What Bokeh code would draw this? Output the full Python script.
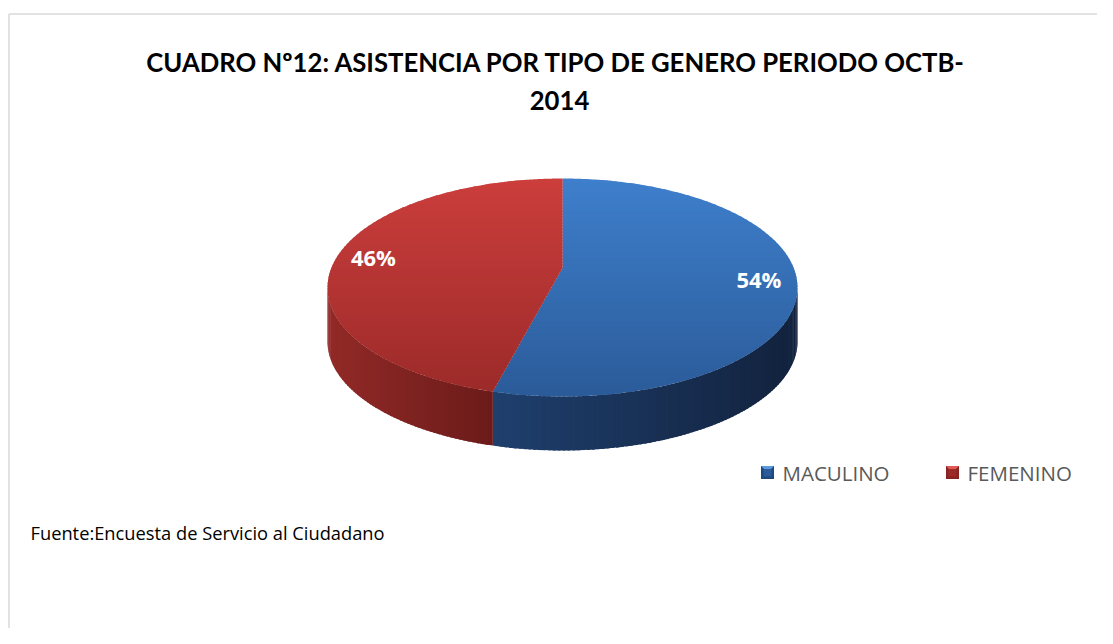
import numpy as np
from bokeh.plotting import figure
from bokeh.models import Range1d
from bokeh.core.properties import value
from bokeh.embed import file_html
from bokeh.resources import INLINE

# ---------------- data ----------------
categories = ["MACULINO", "FEMENINO"]
values = [54, 46]
pct_labels = ["54%", "46%"]
title_lines = ["CUADRO Nº12: ASISTENCIA POR TIPO DE GENERO  PERIODO OCTB-", "2014"]
source_note = "Fuente:Encuesta de Servicio al Ciudadano"

# ---------------- style ----------------
top_colors = [("#3e7fcc", "#2b5b99"), ("#cb3e3c", "#9b2a29")]
side_colors = [("#1f3f6d", "#12223d"), ("#922a27", "#6b1b1a")]
legend_light = ["#5b9ae0", "#e05a57"]
legend_dark = ["#1f4a80", "#8a2321"]

W, H = 1097, 628
X0P, X1P, Y0P, Y1P = 327.0, 797.0, 178.0, 396.0   # bounding box of the pie top
DEPTH = 54.0
K = 0.18  # perspective strength

p = figure(width=W, height=H, x_range=Range1d(0, W), y_range=Range1d(H, 0),
           output_backend="svg", toolbar_location=None, min_border=0,
           x_axis_type=None, y_axis_type=None, background_fill_color="white",
           border_fill_color="white")
p.grid.visible = False
p.outline_line_color = None


def hex2rgb(h):
    h = h.lstrip("#")
    return np.array([int(h[i:i + 2], 16) for i in (0, 2, 4)], dtype=float)


def mix(c0, c1, f):
    f = min(max(f, 0.0), 1.0)
    c = hex2rgb(c0) * (1 - f) + hex2rgb(c1) * f
    return "#%02x%02x%02x" % tuple(int(round(v)) for v in c)


# perspective projection of the unit disc
SXM = 1.0 / np.sqrt(1 - K * K)
SYT, SYB = -1.0 / (1 + K), 1.0 / (1 - K)


def proj(r, phi):
    u, v = r * np.cos(phi), r * np.sin(phi)
    d = 1 - K * v
    sx, sy = u / d, v / d
    x = X0P + (sx + SXM) / (2 * SXM) * (X1P - X0P)
    y = Y0P + (sy - SYT) / (SYB - SYT) * (Y1P - Y0P)
    return x, y


def clip(poly, keep, inter):
    out = []
    n = len(poly)
    for i in range(n):
        a = poly[i]
        b = poly[(i + 1) % n]
        ka, kb = keep(a), keep(b)
        if ka:
            out.append(a)
            if not kb:
                out.append(inter(a, b))
        elif kb:
            out.append(inter(a, b))
    return out


def clip_band(poly, y0, y1):
    def ix(yc):
        def f(a, b):
            t = (yc - a[1]) / (b[1] - a[1])
            return (a[0] + t * (b[0] - a[0]), yc)
        return f
    q = clip(poly, lambda p_: p_[1] >= y0, ix(y0))
    if not q:
        return q
    return clip(q, lambda p_: p_[1] <= y1, ix(y1))


# slice angles (clockwise from 3 o'clock on screen), first slice starts at 12 o'clock
total = float(sum(values))
starts, ends = [], []
a = -np.pi / 2
for v in values:
    starts.append(a)
    a = a + 2 * np.pi * v / total
    ends.append(a)

# ---------- side walls (horizontal gradient) ----------
vis_lo, vis_hi = np.arcsin(K), np.pi - np.arcsin(K)
wx, wy, wc = [], [], []
for i in range(len(values)):
    a0, a1 = starts[i], ends[i]
    for off in (0.0, 2 * np.pi, -2 * np.pi):
        lo = max(a0 + off, vis_lo)
        hi = min(a1 + off, vis_hi)
        if hi <= lo:
            continue
        ts = np.linspace(lo, hi, max(2, int((hi - lo) / np.radians(1.0)) + 1))
        xs_all = [proj(1, t)[0] for t in ts]
        xmin, xmax = min(xs_all), max(xs_all)
        for j in range(len(ts) - 1):
            tb = min(ts[j + 1] + np.radians(0.6), hi)
            x0, y0 = proj(1, ts[j])
            x1, y1 = proj(1, tb)
            wx.append([x0, x1, x1, x0])
            wy.append([y0, y1, y1 + DEPTH, y0 + DEPTH])
            f = ((x0 + x1) / 2 - xmin) / max(xmax - xmin, 1e-6)
            wc.append(mix(side_colors[i][0], side_colors[i][1], f))
p.patches(wx, wy, fill_color=wc, line_color=None)

# ---------- top faces (vertical gradient) ----------
tx, ty, tc = [], [], []
band = 3.0
for i in range(len(values)):
    ts = np.linspace(starts[i], ends[i], 400)
    poly = [proj(0, 0)] + [proj(1, t) for t in ts]
    y = Y0P - 1
    while y < Y1P + 1:
        q = clip_band(poly, y, y + band + 1.2)
        if len(q) >= 3:
            tx.append([c[0] for c in q])
            ty.append([c[1] for c in q])
            f = (y + band / 2 - Y0P) / (Y1P - Y0P)
            tc.append(mix(top_colors[i][0], top_colors[i][1], f))
        y += band
p.patches(tx, ty, fill_color=tc, line_color=None)

# ---------- percentage labels ----------
lx, ly = [], []
for i in range(len(values)):
    mid = (starts[i] + ends[i]) / 2
    x, y = proj(0.84, mid)
    lx.append(x)
    ly.append(y)
p.text(lx, ly, text=pct_labels, text_color="white", text_font=value("Open Sans"),
       text_font_style="bold", text_font_size="22px", text_align="center",
       text_baseline="middle")

# ---------- title ----------
p.text([559, 559], [61, 100], text=title_lines, text_color="black",
       text_font=value("Lato"), text_font_style="bold", text_font_size="25.7px",
       text_align="center", text_baseline="middle")

# ---------- legend ----------
leg_x = [767, 952]
leg_y = 472
s = 6.5
for i, cat in enumerate(categories):
    x0 = leg_x[i]
    p.patch([x0 - s, x0 + s, x0 + s, x0 - s], [leg_y - s, leg_y - s, leg_y + s, leg_y + s],
            fill_color=legend_dark[i], line_color=None)
    p.patch([x0 - s, x0 + s, x0], [leg_y - s, leg_y - s, leg_y],
            fill_color=legend_light[i], line_color=None)
    p.patch([x0 - s + 2.5, x0 + s - 2.5, x0 + s - 2.5, x0 - s + 2.5],
            [leg_y - s + 3, leg_y - s + 3, leg_y + s - 2.5, leg_y + s - 2.5],
            fill_color=top_colors[i][1], line_color=None)
p.text([x + 15 for x in leg_x], [leg_y, leg_y], text=categories, text_color="#595959",
       text_font=value("Open Sans"), text_font_size="20.5px", text_align="left",
       text_baseline="middle")

# ---------- source note ----------
p.text([30], [532], text=[source_note], text_color="black", text_font=value("Open Sans"),
       text_font_size="18.3px", text_align="left", text_baseline="middle")

# ---------- chart border ----------
p.line([8.5, W + 5], [13.5, 13.5], line_color="#d9d9d9", line_width=1.5)
p.line([8.5, 8.5], [13.5, H + 5], line_color="#d9d9d9", line_width=1.5)

open("out.html", "w").write(file_html(p, INLINE))
